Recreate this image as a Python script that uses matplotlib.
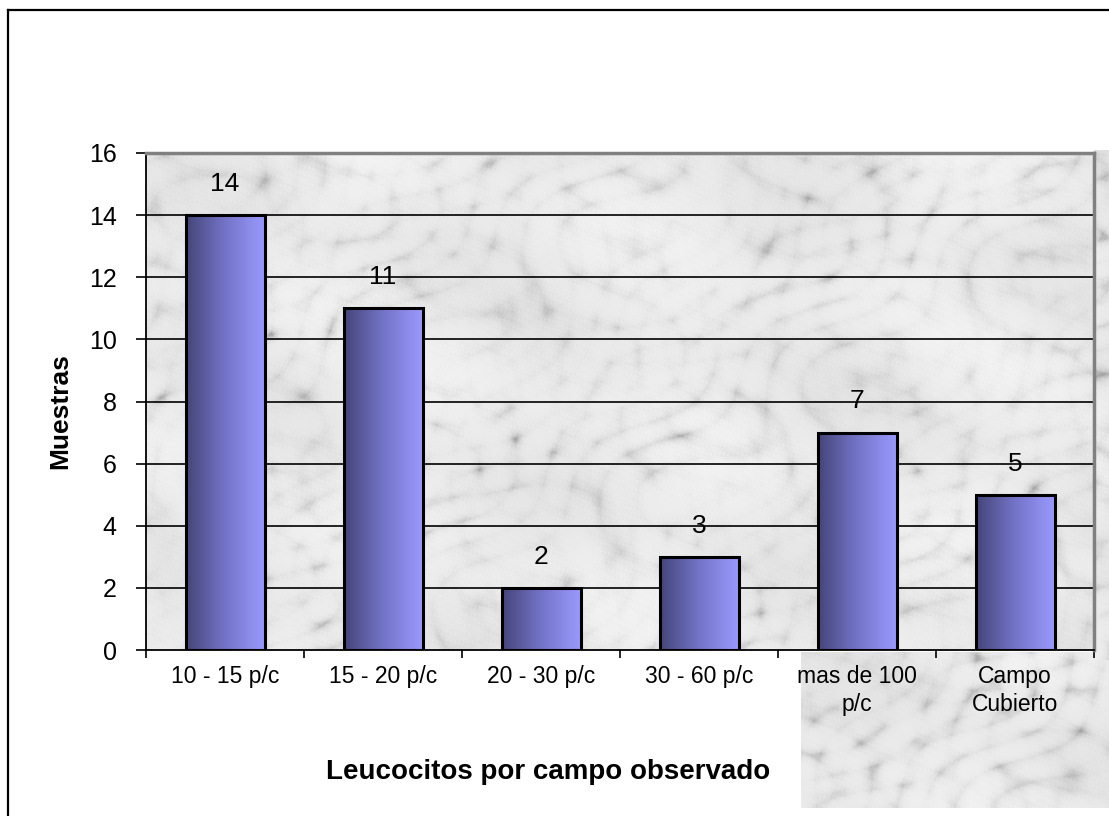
import numpy as np
import matplotlib
matplotlib.use("Agg")
import matplotlib.pyplot as plt
from matplotlib.colors import LinearSegmentedColormap
from matplotlib.lines import Line2D

plt.rcParams['font.family'] = ['Liberation Sans', 'DejaVu Sans']

# Data
categories = ["10 - 15 p/c", "15 - 20 p/c", "20 - 30 p/c", "30 - 60 p/c",
              "mas de 100\np/c", "Campo\nCubierto"]
muestras = [14, 11, 2, 3, 7, 5]
y_ticks = [0, 2, 4, 6, 8, 10, 12, 14, 16]

W, H = 1109, 816
fig = plt.figure(figsize=(W / 100, H / 100), dpi=100)


def marble(h, w, seed_shift=0.0):
    """Deterministic marble-like grey texture built from layered sines."""
    yy, xx = np.mgrid[0:h, 0:w].astype(float)
    base = np.zeros((h, w))
    for ang, freq, amp, ph in [(0.55, 0.045, 1.0, 0.3), (0.75, 0.031, 0.8, 1.7),
                               (0.35, 0.067, 0.6, 2.9), (1.1, 0.023, 0.7, 0.9),
                               (-0.4, 0.052, 0.4, 4.1)]:
        u = xx * np.cos(ang) + yy * np.sin(ang)
        warp = 3.0 * np.sin(0.013 * xx + 0.021 * yy + ph + seed_shift) \
            + 2.0 * np.sin(0.029 * yy - 0.017 * xx + 2 * ph)
        base += amp * np.abs(np.sin(freq * u + warp))
    base = (base - base.min()) / (base.max() - base.min())
    veins = np.clip(1.0 - base, 0, 1) ** 4
    cloud = 0.5 + 0.25 * np.sin(0.021 * xx + 0.9 * np.sin(0.017 * yy)) \
        + 0.25 * np.sin(0.033 * yy - 0.011 * xx + 1.0)
    speck = 0.5 + 0.5 * np.sin(0.9 * xx + 1.3 * np.sin(0.7 * yy)) * np.sin(0.8 * yy + 0.5 * xx)
    g = 0.95 - 0.26 * veins - 0.05 * cloud - 0.05 * speck * (1 - base)
    return np.clip(g, 0.55, 0.97)


# Texture patch spilling past the plot area at the lower right
patch_ax = fig.add_axes([801 / W, (H - 808) / H, (W - 801) / W, (808 - 652) / H])
patch_ax.imshow(marble(160, 310, 1.3), cmap="gray", vmin=0, vmax=1, aspect="auto")
patch_ax.axis("off")
side_ax = fig.add_axes([1094 / W, (H - 660) / H, (W - 1094) / W, (660 - 150) / H])
side_ax.imshow(marble(510, 15, 2.2), cmap="gray", vmin=0, vmax=1, aspect="auto")
side_ax.axis("off")

# Main plot area
left, right, top, bottom = 146, 1094, 153, 650
ax = fig.add_axes([left / W, (H - bottom) / H, (right - left) / W, (bottom - top) / H])
n = len(categories)
ax.set_xlim(-0.5, n - 0.5)
ax.set_ylim(y_ticks[0], y_ticks[-1])
ax.imshow(marble(bottom - top, right - left), cmap="gray", vmin=0, vmax=1,
          extent=(-0.5, n - 0.5, y_ticks[0], y_ticks[-1]), aspect="auto", zorder=0)

for yt in y_ticks[1:-1]:
    ax.axhline(yt, color="black", lw=1.2, zorder=1)

x = np.arange(n)
bars = ax.bar(x, muestras, width=0.5, facecolor="none", edgecolor="black",
              linewidth=2.2, zorder=3)

grad = LinearSegmentedColormap.from_list("barshade", ["#45457a", "#7474c8", "#9a9aff"])
gradient = np.linspace(0, 1, 256).reshape(1, -1)
for b in bars:
    x0, w, h = b.get_x(), b.get_width(), b.get_height()
    ax.imshow(gradient, cmap=grad, aspect="auto", extent=(x0, x0 + w, 0, h), zorder=2)

for xi, v in zip(x, muestras):
    ax.text(xi, v + 1.0, str(v), ha="center", va="center", fontsize=19, zorder=4)

ax.set_xlim(-0.5, n - 0.5)
ax.set_ylim(y_ticks[0], y_ticks[-1])
ax.set_yticks(y_ticks)
ax.set_yticklabels([str(t) for t in y_ticks], fontsize=18)
ax.set_xticks(np.arange(-0.5, n, 1.0))
ax.set_xticklabels([])
ax.set_xticks(x, minor=True)
ax.set_xticklabels(categories, minor=True, fontsize=16.5, linespacing=1.25)
ax.tick_params(axis="x", which="minor", length=0, pad=11)
ax.tick_params(axis="x", which="major", length=6, width=1.2, direction="out")
ax.tick_params(axis="y", length=7, width=1.2, direction="out", pad=14)

for s in ["left", "bottom"]:
    ax.spines[s].set_color("black")
    ax.spines[s].set_linewidth(1.3)
for s in ["top", "right"]:
    ax.spines[s].set_color("#808080")
    ax.spines[s].set_linewidth(2.5)

fig.text(60 / W, 1 - 411 / H, "Muestras", rotation=90, ha="center", va="center",
         fontsize=19, fontweight="bold")
fig.text(548 / W, 1 - 772 / H, "Leucocitos por campo observado", ha="center",
         va="center", fontsize=20, fontweight="bold")

# Outer frame (left and top edges)
fig.add_artist(Line2D([8 / W, 8 / W], [0, 1 - 10 / H], color="black", lw=1.6,
                      transform=fig.transFigure))
fig.add_artist(Line2D([8 / W, 1], [1 - 10 / H, 1 - 10 / H], color="black", lw=1.6,
                      transform=fig.transFigure))

fig.savefig("out.png", dpi=100)
